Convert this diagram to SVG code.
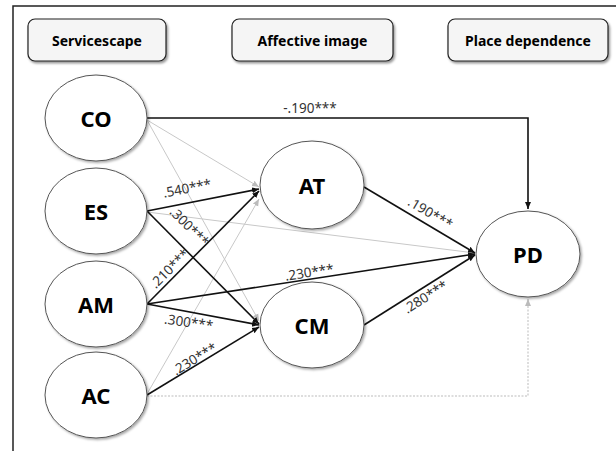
<svg xmlns="http://www.w3.org/2000/svg" width="616" height="451" viewBox="0 0 616 451">
<style>
.node ellipse{fill:#fff;stroke:#555;stroke-width:1;filter:url(#sh)}
.node text{font-family:"Noto Sans","Open Sans","Liberation Sans",sans-serif;font-weight:bold;font-size:22px;fill:#000;text-anchor:middle;dominant-baseline:central}
.hdr rect{fill:#f5f5f5;stroke:#222;stroke-width:1.2;filter:url(#sh2)}
.hdr text{font-family:"Noto Sans","Open Sans","Liberation Sans",sans-serif;font-weight:bold;font-size:14px;fill:#000;text-anchor:middle;dominant-baseline:central}
.blk{stroke:#111;stroke-width:1.6;fill:none;marker-end:url(#ab)}
.gry{stroke:#c8c8c8;stroke-width:1;fill:none;marker-end:url(#ag)}
.dot{stroke:#bbb;stroke-width:1;fill:none;stroke-dasharray:2 1.5;marker-end:url(#ag)}
.lbl{font-family:"Noto Sans","Open Sans","Liberation Sans",sans-serif;font-size:13.5px;fill:#333;text-anchor:middle}
</style>
<defs>
<filter id="sh" x="-20%" y="-20%" width="140%" height="140%"><feDropShadow dx="1.5" dy="1.5" stdDeviation="1" flood-color="#000" flood-opacity="0.35"/></filter>
<filter id="sh2" x="-10%" y="-20%" width="120%" height="150%"><feDropShadow dx="1.5" dy="2" stdDeviation="1" flood-color="#000" flood-opacity="0.4"/></filter>
<marker id="ab" markerWidth="8" markerHeight="8" refX="7" refY="4" orient="auto" markerUnits="userSpaceOnUse"><path d="M0,1 L7,4 L0,7 z" fill="#111"/></marker>
<marker id="ag" markerWidth="8" markerHeight="8" refX="7" refY="4" orient="auto" markerUnits="userSpaceOnUse"><path d="M0,1 L7,4 L0,7 z" fill="#bbb"/></marker>
</defs>
<rect width="616" height="451" fill="#fff"/>
<path d="M13,451 V6 H616" fill="none" stroke="#222" stroke-width="1.5"/>

<g id="hdr-servicescape" class="hdr"><rect x="28" y="19" width="138" height="42" rx="7"/><text x="97" y="40">Servicescape</text></g>
<g id="hdr-affective" class="hdr"><rect x="232" y="19" width="161" height="42" rx="7"/><text x="312.5" y="40">Affective image</text></g>
<g id="hdr-place" class="hdr"><rect x="448" y="19" width="160" height="42" rx="7"/><text x="528" y="40">Place dependence</text></g>

<g id="connectors">
<path class="gry" d="M147,120 L259,187"/>
<path class="gry" d="M147,120 L259,321"/>
<path class="gry" d="M147,212 L475,253"/>
<path class="gry" d="M147,394 L259,199"/>
<path class="dot" d="M147,396 H528 V299"/>
<path class="blk" d="M147,118 H528 V209"/>
<path class="blk" d="M147,211 L259,189"/>
<path class="blk" d="M147,211 L259,324"/>
<path class="blk" d="M147,304 L259,191"/>
<path class="blk" d="M147,304 L259,325"/>
<path class="blk" d="M147,304 L475,254"/>
<path class="blk" d="M147,395 L259,327"/>
<path class="blk" d="M364,187 L475,253"/>
<path class="blk" d="M364,325 L475,255"/>
<text class="lbl" x="310" y="113">-.190***</text>
<text class="lbl" transform="translate(188,193) rotate(-11)">.540***</text>
<text class="lbl" transform="translate(186,230) rotate(45)">.300***</text>
<text class="lbl" transform="translate(173,272) rotate(-45)">.210***</text>
<text class="lbl" transform="translate(188,327) rotate(8)">.300***</text>
<text class="lbl" transform="translate(197,363) rotate(-31)">.230***</text>
<text class="lbl" transform="translate(310,277) rotate(-8.6)">.230***</text>
<text class="lbl" transform="translate(428,217) rotate(30.5)">.190***</text>
<text class="lbl" transform="translate(428,301) rotate(-32)">.280***</text>
</g>

<g id="CO" class="node"><ellipse cx="96" cy="118" rx="51" ry="43"/><text x="96" y="118">CO</text></g>
<g id="ES" class="node"><ellipse cx="96" cy="211" rx="51" ry="43"/><text x="96" y="211">ES</text></g>
<g id="AM" class="node"><ellipse cx="96" cy="304" rx="51" ry="43"/><text x="96" y="304">AM</text></g>
<g id="AC" class="node"><ellipse cx="96" cy="395" rx="51" ry="43"/><text x="96" y="395">AC</text></g>
<g id="AT" class="node"><ellipse cx="312" cy="185" rx="52" ry="44"/><text x="312" y="185">AT</text></g>
<g id="CM" class="node"><ellipse cx="312" cy="325" rx="52" ry="43"/><text x="312" y="325">CM</text></g>
<g id="PD" class="node"><ellipse cx="528" cy="254" rx="52" ry="43"/><text x="528" y="254">PD</text></g>
</svg>
